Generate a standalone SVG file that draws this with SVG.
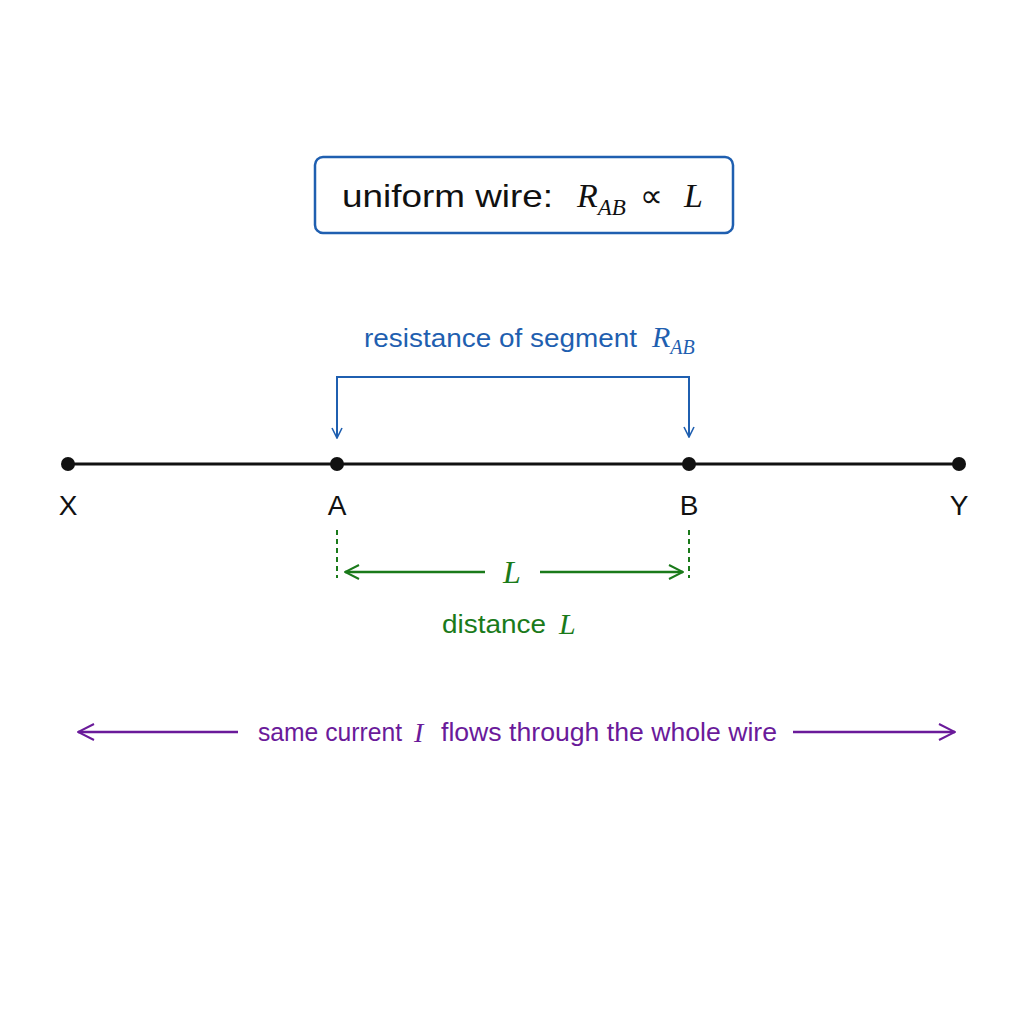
<svg xmlns="http://www.w3.org/2000/svg" width="1024" height="1024" viewBox="0 0 1024 1024">
<style>
.s{font-family:"Liberation Sans","DejaVu Sans",sans-serif}
.m{font-family:"Liberation Serif","DejaVu Serif",serif;font-style:italic}
</style>
<defs>
<marker id="ab" viewBox="0 0 12 12" refX="11" refY="6" markerWidth="12" markerHeight="12" markerUnits="userSpaceOnUse" orient="auto"><path d="M1,1 L11,6 L1,11" fill="none" stroke="#1f5fb0" stroke-width="1.6"/></marker>
<marker id="ag" viewBox="0 0 16 16" refX="15" refY="8" markerWidth="16" markerHeight="16" markerUnits="userSpaceOnUse" orient="auto-start-reverse"><path d="M1,1 L15,8 L1,15" fill="none" stroke="#1a7a1a" stroke-width="2"/></marker>
<marker id="ap" viewBox="0 0 18 18" refX="17" refY="9" markerWidth="18" markerHeight="18" markerUnits="userSpaceOnUse" orient="auto-start-reverse"><path d="M1,1 L17,9 L1,17" fill="none" stroke="#6a1a9a" stroke-width="2"/></marker>
</defs>
<rect width="1024" height="1024" fill="#fff"/>
<g id="title">
<rect x="315" y="157" width="418" height="76" rx="8" fill="#fff" stroke="#1f5fb0" stroke-width="2.5"/>
<text x="342" y="207" class="s" font-size="32" fill="#111" textLength="211" lengthAdjust="spacingAndGlyphs">uniform wire:</text>
<text x="577" y="207" class="m" font-size="34" fill="#111">R<tspan font-size="23" dy="8">AB</tspan></text>
<text x="640" y="207" class="s" font-size="32" fill="#111">∝</text>
<text x="684" y="207" class="m" font-size="34" fill="#111">L</text>
</g>
<g id="connectors">
<path d="M337,437 V377 H689 V437" fill="none" stroke="#1f5fb0" stroke-width="2" marker-end="url(#ab)"/>
<line x1="337" y1="405" x2="337" y2="438" stroke="#1f5fb0" stroke-width="2" marker-end="url(#ab)"/>
<line x1="337" y1="530" x2="337" y2="578" stroke="#1a7a1a" stroke-width="2" stroke-dasharray="5,4"/>
<line x1="689" y1="530" x2="689" y2="578" stroke="#1a7a1a" stroke-width="2" stroke-dasharray="5,4"/>
<line x1="345" y1="572" x2="485" y2="572" stroke="#1a7a1a" stroke-width="2.5" marker-start="url(#ag)"/>
<line x1="540" y1="572" x2="683" y2="572" stroke="#1a7a1a" stroke-width="2.5" marker-end="url(#ag)"/>
<line x1="78" y1="732" x2="238" y2="732" stroke="#6a1a9a" stroke-width="2.5" marker-start="url(#ap)"/>
<line x1="793" y1="732" x2="955" y2="732" stroke="#6a1a9a" stroke-width="2.5" marker-end="url(#ap)"/>
</g>
<g id="wire">
<line x1="68" y1="464" x2="959" y2="464" stroke="#111" stroke-width="3"/>
<circle cx="68" cy="464" r="7" fill="#111"/>
<circle cx="337" cy="464" r="7" fill="#111"/>
<circle cx="689" cy="464" r="7" fill="#111"/>
<circle cx="959" cy="464" r="7" fill="#111"/>
</g>
<g id="labels" class="s" font-size="28" fill="#111" text-anchor="middle">
<text x="68" y="515">X</text><text x="337" y="515">A</text><text x="689" y="515">B</text><text x="959" y="515">Y</text>
</g>
<g id="seglabel">
<text x="364" y="347" class="s" font-size="25" fill="#1f5fb0" textLength="273" lengthAdjust="spacingAndGlyphs">resistance of segment</text>
<text x="652" y="347" class="m" font-size="30" fill="#1f5fb0">R<tspan font-size="20" dy="7">AB</tspan></text>
</g>
<g id="dist">
<text x="512" y="583" class="m" font-size="32" fill="#1a7a1a" text-anchor="middle">L</text>
<text x="442" y="633" class="s" font-size="25" fill="#1a7a1a" textLength="104" lengthAdjust="spacingAndGlyphs">distance</text>
<text x="559" y="634" class="m" font-size="30" fill="#1a7a1a">L</text>
</g>
<g id="current" fill="#6a1a9a">
<text x="258" y="741" class="s" font-size="25" textLength="144" lengthAdjust="spacingAndGlyphs">same current</text>
<text x="414" y="742" class="m" font-size="28">I</text>
<text x="441" y="741" class="s" font-size="25" textLength="336" lengthAdjust="spacingAndGlyphs">flows through the whole wire</text>
</g>
</svg>
